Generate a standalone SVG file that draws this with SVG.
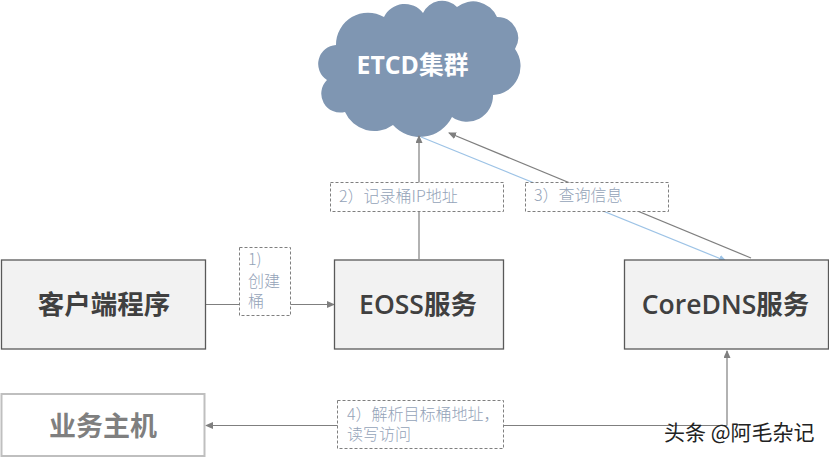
<svg xmlns="http://www.w3.org/2000/svg" width="829" height="458" viewBox="0 0 829 458">
<style>
text{font-family:"Liberation Sans","Noto Sans CJK SC",sans-serif}
.cjk{font-family:"Noto Sans CJK SC",sans-serif}
.node{fill:#f2f2f2;stroke:#595959;stroke-width:1.3}
.big{font-family:"Open Sans","Noto Sans CJK SC",sans-serif;font-size:26.500px;font-weight:600;fill:#404040;text-anchor:middle}
.lab{fill:#fff;stroke:#7f7f7f;stroke-width:1;stroke-dasharray:3 2}
.lt{font-family:"Noto Sans CJK SC",sans-serif;font-size:16px;font-weight:300;fill:#94a3b8}
.c{fill:none;stroke:#7f7f7f;stroke-width:1.2}
</style>
<defs>
<marker id="a" markerWidth="8" markerHeight="8" refX="7" refY="3.5" orient="auto" markerUnits="userSpaceOnUse"><path d="M0 0L8 3.500L0 7Z" fill="#7f7f7f"/></marker>
<marker id="b" markerWidth="8" markerHeight="8" refX="7" refY="3.5" orient="auto" markerUnits="userSpaceOnUse"><path d="M0 0L8 3.500L0 7Z" fill="#9dc3e6"/></marker>
</defs>
<g id="etcd">
<path fill="#7f96b2" d="M336 45A32 32 0 0 1 384 17A23 23 0 0 1 423 13A21 21 0 0 1 457 7A26 26 0 0 1 497 17A21 21 0 0 1 515 49A29 29 0 0 1 493 95A26 26 0 0 1 452 117A36 36 0 0 1 393 125A32 32 0 0 1 345 112A19 19 0 0 1 327 80A19 19 0 0 1 336 45Z"/>
<text x="412.500" y="74" text-anchor="middle" font-size="24.800" font-weight="700" fill="#fff" style="font-family:'Open Sans','Noto Sans CJK SC',sans-serif">ETCD集群</text>
</g>
<g id="connectors">
<path class="c" d="M206 304.500H334" marker-end="url(#a)"/>
<path class="c" d="M419 259V136" marker-end="url(#a)"/>
<path class="c" d="M751 258L449 133" marker-end="url(#a)"/>
<path fill="none" stroke="#9dc3e6" stroke-width="1.200" d="M421 137L726 261" marker-end="url(#b)"/>
<path class="c" d="M727 425.500V351" marker-end="url(#a)"/>
<path class="c" d="M727 425.500H206" marker-end="url(#a)"/>
</g>
<g id="client">
<rect class="node" x="1.500" y="260" width="204" height="89"/>
<text class="big" x="104" y="314">客户端程序</text>
</g>
<g id="eoss">
<rect class="node" x="334.500" y="260" width="169" height="89"/>
<text class="big" x="418" y="314">EOSS服务</text>
</g>
<g id="coredns">
<rect class="node" x="624.500" y="260" width="204" height="89"/>
<text class="big" x="725.500" y="314">CoreDNS服务</text>
</g>
<g id="host">
<rect x="1.500" y="394" width="203" height="62" fill="#fff" stroke="#bfbfbf" stroke-width="2"/>
<text x="103" y="436" text-anchor="middle" font-size="27" font-weight="700" fill="#7f7f7f" class="cjk">业务主机</text>
</g>
<g id="label1">
<rect class="lab" x="239.500" y="247.500" width="51" height="68"/>
<text class="lt" x="248" y="265">1)</text>
<text class="lt" x="248" y="287">创建</text>
<text class="lt" x="248" y="307">桶</text>
</g>
<g id="label2">
<rect class="lab" x="330.500" y="182.500" width="173" height="29"/>
<text class="lt" x="339" y="202">2）记录桶IP地址</text>
</g>
<g id="label3">
<rect class="lab" x="525.500" y="182.500" width="143" height="29"/>
<text class="lt" x="534" y="201">3）查询信息</text>
</g>
<g id="label4">
<rect class="lab" x="337.500" y="400.500" width="166" height="48"/>
<text class="lt" x="347" y="420">4）解析目标桶地址，</text>
<text class="lt" x="347" y="440">读写访问</text>
</g>
<text x="664" y="440" font-size="21" fill="#222" class="cjk">头条 @阿毛杂记</text>
</svg>
